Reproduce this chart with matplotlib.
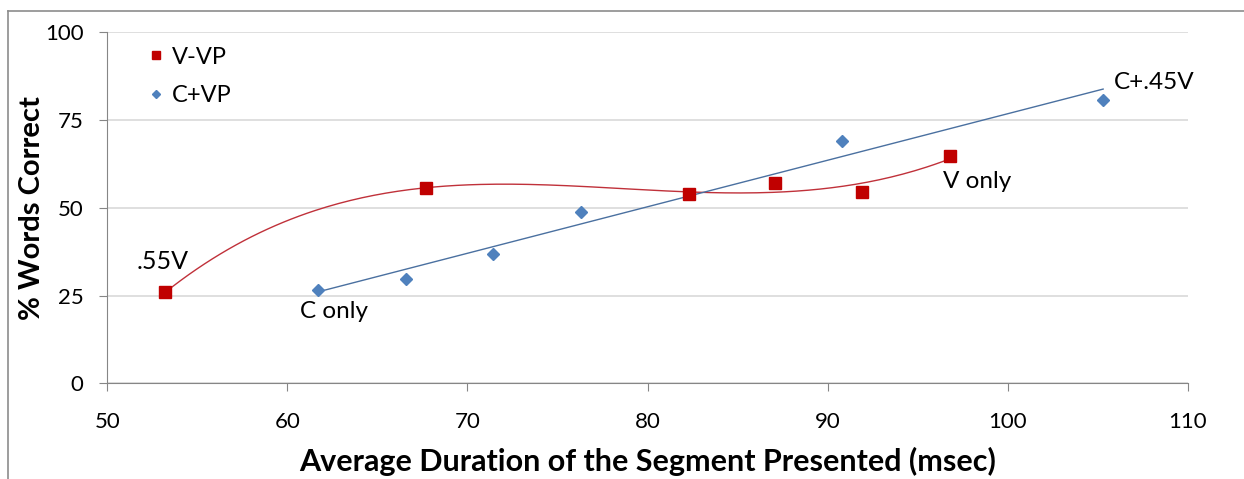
import numpy as np
import matplotlib
matplotlib.use('Agg')
from matplotlib import pyplot as plt
from matplotlib.lines import Line2D

plt.rcParams['font.family'] = ['Lato', 'DejaVu Sans']

# V-VP series (red squares)
vvp_x = [53.2, 67.7, 82.3, 87.1, 91.9, 96.8]
vvp_y = [25.9, 55.6, 53.8, 57.0, 54.4, 64.8]

# C+VP series (blue diamonds)
cvp_x = [61.7, 66.6, 71.4, 76.3, 90.8, 105.3]
cvp_y = [26.5, 29.7, 36.8, 48.8, 68.9, 80.6]

x_ticks = [50, 60, 70, 80, 90, 100, 110]
y_ticks = [0, 25, 50, 75, 100]

red = '#C00000'
blue = '#4F81BD'

fig = plt.figure(figsize=(12.44, 4.79), dpi=100)
ax = fig.add_axes([0.0863, 0.1998, 0.8685, 0.7328])

# trendlines, like the spreadsheet ones: cubic for V-VP, linear for C+VP
p3 = np.polyfit(vvp_x, vvp_y, 3)
xs = np.linspace(min(vvp_x), max(vvp_x), 200)
ax.plot(xs, np.polyval(p3, xs), color='#C0313A', lw=1.0, zorder=2)

p1 = np.polyfit(cvp_x, cvp_y, 1)
xs = np.linspace(min(cvp_x), max(cvp_x), 50)
ax.plot(xs, np.polyval(p1, xs), color='#4A70A0', lw=1.0, zorder=2)

ax.plot(vvp_x, vvp_y, 's', color=red, markersize=8, label='V-VP', zorder=3)
ax.plot(cvp_x, cvp_y, 'D', color=blue, markersize=6.5, label='C+VP', zorder=3)

ax.set_xlim(50, 110)
ax.set_ylim(0, 100)
ax.set_xticks(x_ticks)
ax.set_yticks(y_ticks)
ax.grid(axis='y', color='#D9D9D9', lw=1.2)
ax.set_axisbelow(True)
for s in ['top', 'right']:
    ax.spines[s].set_visible(False)
for s in ['left', 'bottom']:
    ax.spines[s].set_color('#868686')
ax.tick_params(axis='x', direction='out', length=6, color='#868686', labelsize=16, pad=15)
ax.tick_params(axis='y', direction='out', length=6, color='#868686', labelsize=16, pad=11)

ax.set_xlabel('Average Duration of the Segment Presented (msec)', fontsize=22,
              fontweight='bold', va='center')
ax.xaxis.set_label_coords(0.5, -0.224)
ax.set_ylabel('% Words Correct', fontsize=21, fontweight='bold', va='center')
ax.yaxis.set_label_coords(-0.0697, 0.5)

ax.text(51.6, 32.5, '.55V', fontsize=18, ha='left', va='baseline')
ax.text(60.7, 18.5, 'C only', fontsize=17.5, ha='left', va='baseline')
ax.text(105.9, 83.8, 'C+.45V', fontsize=17.5, ha='left', va='baseline')
ax.text(96.4, 55.5, 'V only', fontsize=17.5, ha='left', va='baseline')

ax.legend(loc='upper left', bbox_to_anchor=(0.017, 1.02), frameon=False, fontsize=17,
          markerscale=0.7, handlelength=0.8, handletextpad=0.25, labelspacing=0.75)

# chart frame (left and top edges visible in the crop)
fig.add_artist(Line2D([8 / 1244, 8 / 1244], [0, 1 - 11 / 479], color='#8C8C8C', lw=1.2))
fig.add_artist(Line2D([8 / 1244, 1], [1 - 11 / 479, 1 - 11 / 479], color='#8C8C8C', lw=1.2))

fig.savefig('out.png', dpi=100)
